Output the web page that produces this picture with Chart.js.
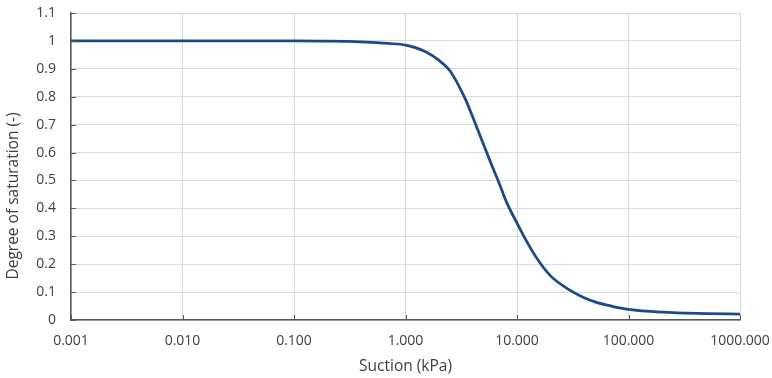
<!DOCTYPE html>
<html>
<head>
<meta charset="utf-8">
<script src="https://cdn.jsdelivr.net/npm/chart.js@4/dist/chart.umd.min.js"></script>
<style>
  html, body { margin: 0; padding: 0; background: #fff; }
  #wrap { width: 772px; height: 378px; }
</style>
</head>
<body>
<div id="wrap"><canvas id="graph" width="772" height="378"></canvas></div>
<script>
// chart data
const suction = [0.001, 0.002, 0.005, 0.01, 0.02, 0.05, 0.1, 0.2, 0.3, 0.5, 0.7, 1, 1.5, 2, 2.5, 3, 3.5, 4, 5, 6, 7, 8, 10, 12, 15, 20, 30, 40, 50, 70, 100, 200, 500, 1000];
const saturation = [1, 1, 1, 1, 1, 1, 1, 0.999, 0.998, 0.995, 0.991, 0.985, 0.962, 0.93, 0.893, 0.84, 0.785, 0.728, 0.63, 0.55, 0.485, 0.425, 0.347, 0.287, 0.222, 0.158, 0.106, 0.08, 0.065, 0.05, 0.038, 0.028, 0.023, 0.021];

const xTicks = [0.001, 0.01, 0.1, 1, 10, 100, 1000];
const xTickLabels = ['0.001', '0.010', '0.100', '1.000', '10.000', '100.000', '1000.000'];
const yTickLabels = ['0', '0.1', '0.2', '0.3', '0.4', '0.5', '0.6', '0.7', '0.8', '0.9', '1', '1.1'];
const yTitle = 'Degree of saturation (-)';
const xTitle = 'Suction (kPa)';

const textColor = '#404040';
const gridColor = '#d9d9d9';
const axisColor = '#595959';
const tickFont = { family: 'Open Sans', size: 14 };
const titleFont = { family: 'Open Sans', size: 15.5 };

// small dark tick marks drawn inside the plot area, like the source
const innerTicks = {
  id: 'innerTicks',
  afterDatasetsDraw(chart) {
    const { ctx, chartArea, scales } = chart;
    ctx.save();
    ctx.strokeStyle = axisColor;
    ctx.lineWidth = 1;
    ctx.beginPath();
    xTicks.forEach((v) => {
      const px = Math.round(scales.x.getPixelForValue(v)) + 0.5;
      ctx.moveTo(px, chartArea.bottom);
      ctx.lineTo(px, chartArea.bottom - 5);
    });
    yTickLabels.forEach((t, i) => {
      const py = Math.round(scales.y.getPixelForValue(i / 10)) + 0.5;
      ctx.moveTo(chartArea.left, py);
      ctx.lineTo(chartArea.left + 5, py);
    });
    ctx.stroke();
    ctx.restore();
  },
};

// the y title sits a bit below the middle of the plot in the source
const yTitlePlugin = {
  id: 'yTitlePlugin',
  afterDraw(chart) {
    const { ctx } = chart;
    ctx.save();
    ctx.font = `${titleFont.size}px "${titleFont.family}"`;
    ctx.fillStyle = textColor;
    ctx.textAlign = 'center';
    ctx.textBaseline = 'middle';
    ctx.translate(14, 196);
    ctx.rotate(-Math.PI / 2);
    ctx.fillText(yTitle, 0, 0);
    ctx.restore();
  },
};

const ctx = document.getElementById('graph').getContext('2d');
const chart = new Chart(ctx, {
  type: 'scatter',
  data: {
    datasets: [
      {
        data: suction.map((s, i) => ({ x: s, y: saturation[i] })),
        showLine: true,
        borderColor: '#1a4a8a',
        borderWidth: 2.75,
        pointRadius: 0,
        cubicInterpolationMode: 'monotone',
        fill: false,
      },
    ],
  },
  options: {
    responsive: false,
    animation: false,
    layout: { padding: { top: 13, right: 32, left: 0, bottom: 0 } },
    plugins: { legend: { display: false }, tooltip: { enabled: false } },
    scales: {
      x: {
        type: 'logarithmic',
        min: 0.001,
        max: 1000,
        afterBuildTicks: (scale) => {
          scale.ticks = xTicks.map((v) => ({ value: v }));
        },
        afterFit: (scale) => {
          scale.height = 58;
          scale.paddingLeft = 0;
          scale.paddingRight = 0;
        },
        grid: { color: gridColor, drawTicks: false },
        border: { color: axisColor, width: 1.5 },
        ticks: {
          color: textColor,
          font: tickFont,
          padding: 13,
          maxRotation: 0,
          autoSkip: false,
          callback: (v) => {
            const i = xTicks.indexOf(v);
            return i >= 0 ? xTickLabels[i] : '';
          },
        },
        title: {
          display: true,
          text: xTitle,
          color: textColor,
          font: titleFont,
          padding: { top: 0, bottom: 2 },
        },
      },
      y: {
        min: 0,
        max: 1.1,
        afterFit: (scale) => {
          scale.width = 71;
          scale.paddingTop = 0;
          scale.paddingBottom = 0;
        },
        grid: { color: gridColor, drawTicks: false },
        border: { color: axisColor, width: 1.5 },
        ticks: {
          stepSize: 0.1,
          color: textColor,
          font: tickFont,
          padding: 15,
          callback: (v) => yTickLabels[Math.round(v * 10)],
        },
      },
    },
  },
  plugins: [innerTicks, yTitlePlugin],
});
</script>
</body>
</html>
